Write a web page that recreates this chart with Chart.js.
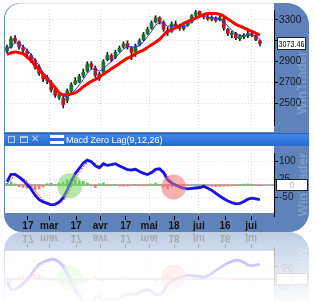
<!DOCTYPE html>
<html>
<head>
<meta charset="utf-8">
<script src="https://cdn.jsdelivr.net/npm/chart.js@4.4.0/dist/chart.umd.min.js"></script>
<style>
  body { margin: 0; background: #fff; width: 315px; height: 301px; overflow: hidden; font-family: "Liberation Sans", Arial, sans-serif; }
  #frame { position: absolute; left: 4px; top: 3px; width: 305px; height: 229px; background: #5f82ba;
           border-radius: 16px 22px 20px 18px; overflow: hidden;
           -webkit-box-reflect: below 0px linear-gradient(to bottom, transparent 68%, rgba(0,0,0,0.4) 100%); }
  #topPanel { position: absolute; left: 1px; top: 0; width: 269px; height: 129px; background: #fff;
              border-top-left-radius: 16px; border-top: 1px solid #e8e8e8; box-sizing: border-box; }
  #lowPanel { position: absolute; left: 1px; top: 143px; width: 269px; height: 67px; background: #fff; }
  canvas { position: absolute; left: 1px; }
  #priceChart { top: 0; }
  #macdChart { top: 143px; }
  #bar { position: absolute; left: 0; top: 130px; width: 305px; height: 13px;
         background: linear-gradient(#3f86ea, #2b69cf); border-top: 1px solid #2a5eb0; box-sizing: border-box; }
  #bar .ic1 { position: absolute; left: 4px; top: 2px; width: 5px; height: 5px; border: 1px solid #b9c9e6; }
  #bar .ic2 { position: absolute; left: 16px; top: 2px; width: 6px; height: 4px; border: 1px solid #b9c9e6; border-top-width: 2px; }
  #bar .ix { position: absolute; left: 27px; top: -1px; font-size: 10px; color: #c3d2ec; }
  #bar .eq { position: absolute; left: 46px; top: 1px; width: 14px; height: 9px;
             background: linear-gradient(#fff 0 38%, #2b69cf 38% 62%, #fff 62%); }
  #bar .title { position: absolute; left: 62px; top: 0; font-size: 9px; line-height: 12px; color: #fff; white-space: nowrap; }
  .mark { position: absolute; writing-mode: vertical-rl; transform: rotate(180deg); font-size: 13px; font-weight: bold;
          color: rgba(205,218,238,0.28); white-space: nowrap; }
</style>
</head>
<body>
<div id="frame">
  <div id="topPanel"></div>
  <div id="lowPanel"></div>
  <div class="mark" style="left:290px; top:48px;">WinTrader</div>
  <div class="mark" style="left:291px; top:150px;">WinTrader</div>
  <canvas id="priceChart" width="304" height="129"></canvas>
  <div id="bar">
    <span class="ic1"></span><span class="ic2"></span><span class="ix">✕</span>
    <span class="eq"></span><span class="title">Macd Zero Lag(9,12,26)</span>
  </div>
  <canvas id="macdChart" width="304" height="86"></canvas>
</div>
<script>
// daily candles
const opens  = [3000,3040,3125,3090,3035,3000,2960,2915,2850,2780, 2720,2700,2630,2560,2550,2530,2620,2690,2710,2770,
                2810,2880,2840,2740,2800,2920,2960,2940,3000,3040, 3075,3030,2995,3060,3110,3170,3220,3280,3320,3280,
                3200,3190,3260,3230,3215,3250,3280,3345,3380,3340, 3325,3305,3320,3300,3310,3210,3160,3170,3120,3140,
                3150,3170,3150,3100];
const highs  = [3060,3140,3150,3100,3060,3020,2975,2930,2870,2800, 2770,2720,2650,2610,2570,2640,2700,2750,2780,2830,
                2900,2900,2860,2800,2920,2990,2975,3010,3050,3090, 3100,3045,3070,3120,3180,3230,3290,3340,3330,3290,
                3230,3280,3290,3260,3260,3290,3350,3390,3385,3360, 3350,3340,3330,3340,3320,3220,3190,3180,3160,3170,
                3190,3200,3160,3110];
const lows   = [2985,3030,3080,3020,2985,2950,2890,2830,2770,2710, 2690,2610,2560,2540,2460,2510,2600,2680,2700,2750,
                2800,2830,2750,2720,2790,2910,2900,2930,2990,3030, 3020,2920,2950,3050,3100,3160,3210,3270,3260,3190,
                3150,3180,3220,3200,3200,3240,3270,3330,3330,3310, 3295,3290,3280,3290,3200,3150,3130,3110,3100,3120,
                3130,3140,3100,3050];
const closes = [3040,3120,3095,3040,3010,2975,2910,2850,2790,2735, 2750,2630,2580,2590,2490,2620,2680,2720,2760,2800,
                2880,2850,2770,2780,2900,2960,2920,2990,3030,3070, 3040,2990,3050,3100,3160,3210,3270,3320,3280,3210,
                3180,3260,3240,3220,3245,3275,3340,3370,3345,3330, 3310,3325,3295,3320,3220,3170,3175,3130,3145,3155,
                3170,3160,3110,3073.46];
const slowMa = [2968,2985,2994,2985,2977,2943,2909,2866,2823,2781, 2738,2696,2653,2602,2585,2585,2594,2602,2628,2662,
                2687,2713,2730,2755,2781,2806,2832,2857,2883,2909, 2934,2951,2977,2994,3011,3036,3062,3087,3113,3155,
                3189,3206,3223,3240,3266,3283,3300,3317,3334,3351, 3360,3360,3360,3351,3334,3309,3283,3257,3240,3223,
                3206,3189,3172,3155];
const fastMa = [3010,3050,3080,3075,3050,3015,2970,2915,2860,2800, 2760,2710,2650,2610,2570,2560,2590,2630,2680,2730,
                2790,2830,2830,2810,2830,2870,2900,2940,2980,3020, 3045,3040,3040,3055,3090,3140,3190,3250,3275,3265,
                3240,3240,3245,3240,3235,3245,3280,3320,3340,3345, 3330,3320,3310,3310,3280,3240,3200,3165,3150,3145,
                3150,3155,3145,3115];

// MACD zero lag
const macd   = [14,45,45,33,20,3,-17,-42,-61,-70, -76,-82,-80,-70,-52,-20,16,48,70,92,
                104,98,80,72,89,82,85,89,80,72, 64,63,66,57,49,44,52,66,68,52,
                22,8,0,-8,-13,-16,-14,-12,-10,-5, -13,-22,-34,-46,-57,-66,-73,-78,-76,-68,
                -58,-54,-57,-61];
const signal = [5,25,40,40,30,15,-2,-22,-45,-62, -72,-78,-82,-78,-65,-42,-10,25,52,76,
                95,100,90,78,80,84,84,86,84,76, 68,64,64,60,52,46,48,58,66,60,
                38,16,4,-4,-10,-14,-15,-13,-11,-8, -10,-17,-28,-40,-52,-62,-70,-76,-78,-72,
                -63,-56,-56,-59];
const hist   = [8,14,5,-7,-10,-12,-15,-20,-16,-8, 6,8,2,8,13,22,26,23,18,16,
                9,-2,-10,6,9,-2,1,3,-4,-4, -4,-1,2,-3,-3,-2,4,8,2,-8,
                -16,-8,-4,-4,-3,-2,1,1,1,3, -3,-5,-6,-6,-5,-4,-3,-2,2,4,
                5,2,-1,-2];
const crossMarks = [{ x: 15.6, y: -3, r: 12.5 }, { x: 41.5, y: -8, r: 12.5 }];
const crossColors = ['rgba(120,215,95,0.55)', 'rgba(238,115,115,0.55)'];

// axes
const tickPos = [5.2, 10.5, 17.2, 23.2, 29.6, 35.4, 41.6, 47.8, 54.3, 60.8];
const tickLabels = ['17', 'mar', '17', 'avr', '17', 'mai', '18', 'jui', '16', 'jui'];
const priceTicks = [2500, 2700, 2900, 3100, 3300];
const macdTicks = [-50, 25, 100];

Chart.defaults.font.family = "'Liberation Sans', Arial, sans-serif";

const idx = closes.map((_, i) => i);
const pts = arr => arr.map((v, i) => ({ x: i, y: v }));
const monthGrid = c => (c.tick && isNaN(tickLabels[c.index])) ? '#d4d4d4' : 'rgba(0,0,0,0)';
const setXTicks = s => { s.ticks = tickPos.map(v => ({ value: v })); };

function valueBox(value, text, color, dx, w, h) {
    return {
        id: 'valueBox',
        afterDraw(chart) {
            const ctx = chart.ctx;
            const y = chart.scales.y.getPixelForValue(value);
            const x = chart.chartArea.right + dx;
            ctx.save();
            ctx.fillStyle = '#fff';
            ctx.strokeStyle = '#222';
            ctx.lineWidth = 1;
            ctx.fillRect(x, Math.round(y - h / 2), w, h);
            ctx.strokeRect(x + 0.5, Math.round(y - h / 2) + 0.5, w - 1, h - 1);
            ctx.fillStyle = color;
            ctx.font = "9px 'Liberation Sans', Arial";
            ctx.textAlign = 'center';
            ctx.textBaseline = 'middle';
            ctx.fillText(text, x + w / 2, y + 0.5, w - 3);
            ctx.restore();
        }
    };
}

// highlighted crossings, placed with the MACD scales
const crossPlugin = {
    id: 'crossMarks',
    afterDatasetsDraw(chart) {
        const { ctx, scales } = chart;
        ctx.save();
        crossMarks.forEach((m, i) => {
            ctx.fillStyle = crossColors[i];
            ctx.beginPath();
            ctx.arc(scales.x.getPixelForValue(m.x), scales.y.getPixelForValue(m.y), m.r, 0, Math.PI * 2);
            ctx.fill();
        });
        ctx.restore();
    }
};

new Chart(document.getElementById('priceChart'), {
    type: 'bar',
    data: {
        datasets: [
            { type: 'line', data: pts(slowMa), borderColor: '#ff0000', borderWidth: 3, pointRadius: 0,
              cubicInterpolationMode: 'monotone', order: 0 },
            { type: 'line', data: pts(fastMa), borderColor: '#2a2aff', borderWidth: 1, pointRadius: 0, order: 1 },
            { data: idx.map(i => ({ x: i, y: [opens[i], closes[i]] })), barThickness: 3, grouped: false,
              backgroundColor: c => closes[c.dataIndex] >= opens[c.dataIndex] ? '#1b6e30' : '#a82026', order: 2 },
            { data: idx.map(i => ({ x: i, y: [lows[i], highs[i]] })), barThickness: 1, grouped: false,
              backgroundColor: '#151515', order: 3 }
        ]
    },
    options: {
        responsive: false, animation: false, events: [],
        layout: { padding: 0 },
        plugins: { legend: { display: false }, tooltip: { enabled: false } },
        scales: {
            x: { type: 'linear', min: -0.5, max: 66.5, offset: false,
                 grid: { offset: false, color: monthGrid, drawTicks: false },
                 border: { display: false, dash: [1, 2] },
                 ticks: { display: false },
                 afterBuildTicks: setXTicks,
                 afterFit: s => { s.height = 0; } },
            y: { position: 'right', min: 2296, max: 3394, beginAtZero: false,
                 afterBuildTicks: s => { s.ticks = priceTicks.map(v => ({ value: v })); },
                 grid: { color: '#dadada', tickColor: '#000', tickLength: 4 },
                 border: { color: '#000', width: 1, dash: [1, 2] },
                 ticks: { color: '#121a2a', padding: 1, font: { size: 10 }, callback: v => v === 3100 ? '' : String(v) },
                 afterFit: s => { s.width = 35; } }
        }
    },
    plugins: [valueBox(closes[closes.length - 1], '3073.46', '#000', 3, 29, 13)]
});

new Chart(document.getElementById('macdChart'), {
    type: 'bar',
    data: {
        datasets: [
            { type: 'line', data: pts(macd), borderColor: '#1414e6', borderWidth: 2.8, pointRadius: 0, order: 1 },
            { type: 'line', data: pts(signal), borderColor: '#ff2a2a', borderWidth: 1, borderDash: [2, 1.5],
              pointRadius: 0, order: 2 },
            { data: pts(hist), barThickness: 2, grouped: false, order: 3,
              backgroundColor: c => hist[c.dataIndex] >= 0 ? '#6dbd6d' : '#e67f74' }
        ]
    },
    options: {
        responsive: false, animation: false, events: [],
        layout: { padding: 0 },
        plugins: { legend: { display: false }, tooltip: { enabled: false } },
        scales: {
            x: { type: 'linear', min: -0.5, max: 66.5, offset: false,
                 grid: { offset: false, color: monthGrid, tickColor: '#000', tickLength: 4 },
                 border: { display: false, dash: [1, 2] },
                 ticks: { color: '#141414', padding: 0, maxRotation: 0, autoSkip: false,
                          font: { size: 10, weight: 'bold' }, callback: (v, i) => tickLabels[i] },
                 afterBuildTicks: setXTicks,
                 afterFit: s => { s.height = 16; } },
            y: { position: 'right', min: -128.7, max: 133.75, beginAtZero: false,
                 afterBuildTicks: s => { s.ticks = macdTicks.map(v => ({ value: v })); },
                 grid: { color: '#e0e0e0', tickColor: '#000', tickLength: 4 },
                 border: { color: '#000', width: 1, dash: [1, 2] },
                 ticks: { color: '#121a2a', padding: 1, font: { size: 10 }, callback: v => String(v) },
                 afterFit: s => { s.width = 35; } }
        }
    },
    plugins: [
        {
            id: 'zeroLine',
            beforeDatasetsDraw(chart) {
                const { ctx, chartArea } = chart;
                const y = chart.scales.y.getPixelForValue(0);
                ctx.save();
                ctx.strokeStyle = '#b2b2b2';
                ctx.lineWidth = 2;
                ctx.beginPath();
                ctx.moveTo(chartArea.left, y);
                ctx.lineTo(chartArea.right, y);
                ctx.stroke();
                ctx.restore();
            }
        },
        crossPlugin,
        valueBox(0, '0', '#b8b8b8', 2, 32, 12)
    ]
});
</script>
</body>
</html>
